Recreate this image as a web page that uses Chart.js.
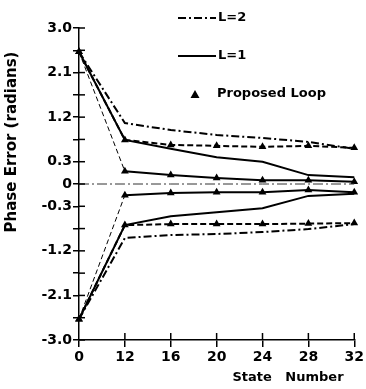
<!DOCTYPE html>
<html>
<head>
<meta charset="utf-8">
<script src="https://cdn.jsdelivr.net/npm/chart.js@4.4.1/dist/chart.umd.min.js"></script>
<style>
html, body { margin: 0; padding: 0; background: #fff; }
#wrap { width: 366px; height: 389px; }
</style>
</head>
<body>
<div id="wrap"><canvas id="chart" width="366" height="389"></canvas></div>
<script>
var states = ['0', '12', '16', '20', '24', '28', '32'];

// phase error in radians
var l2Upper = [2.52, 1.08, 0.94, 0.84, 0.78, 0.70, 0.56];
var l2Lower = [-2.58, -0.94, -0.88, -0.86, -0.82, -0.76, -0.66];
var l1Upper = [2.52, 0.74, 0.56, 0.39, 0.30, 0.12, 0.09];
var l1Lower = [-2.58, -0.68, -0.50, -0.42, -0.34, -0.16, -0.13];
var loopOuterUpper = [2.52, 0.74, 0.64, 0.62, 0.60, 0.62, 0.58];
var loopOuterLower = [-2.58, -0.68, -0.66, -0.66, -0.66, -0.65, -0.64];
var loopInnerUpper = [2.52, 0.17, 0.12, 0.08, 0.05, 0.05, 0.03];
var loopInnerLower = [-2.58, -0.15, -0.12, -0.11, -0.11, -0.08, -0.11];
var zeroLine = [0, 0, 0, 0, 0, 0, 0];

var yTickValues = [-3.0, -2.1, -1.2, -0.3, 0, 0.3, 1.2, 2.1, 3.0];
var yTickLabels = ['-3.0', '-2.1', '-1.2', '-0.3', '0', '0.3', '1.2', '2.1', '3.0'];

var FONT = '"DejaVu Sans", sans-serif';

// the drawn axis is not linear: 0.3 per step near zero, 0.45 per step beyond
function toAxis(v) {
	var a = Math.abs(v);
	var u = a <= 0.3 ? a / 0.3 : 1 + (a - 0.3) / 0.45;
	return v < 0 ? -u : u;
}
function mapped(arr) {
	return arr.map(toAxis);
}

var firstThin = {
	borderDash: function (ctx) { return ctx.p0DataIndex === 0 ? [5, 3] : undefined; },
	borderWidth: function (ctx) { return ctx.p0DataIndex === 0 ? 1 : undefined; }
};

function line(label, data, opts) {
	var d = {
		label: label,
		data: mapped(data),
		borderColor: '#000',
		backgroundColor: '#000',
		borderWidth: 2,
		pointRadius: 0,
		tension: 0,
		fill: false
	};
	for (var k in opts) d[k] = opts[k];
	return d;
}

var tri = {pointStyle: 'triangle', pointRadius: 4.5, pointBorderWidth: 0};

var datasets = [
	line('zero', zeroLine, {borderWidth: 1, borderDash: [10, 3, 2, 3], borderColor: '#333'}),
	line('L=2', l2Upper, {borderDash: [8, 3, 2, 3]}),
	line('L=2 lower', l2Lower, {borderDash: [8, 3, 2, 3]}),
	line('L=1', l1Upper, {}),
	line('L=1 lower', l1Lower, {}),
	line('Proposed Loop', loopOuterUpper, Object.assign({borderDash: [6, 3]}, tri)),
	line('Proposed Loop lower', loopOuterLower, Object.assign({borderDash: [6, 3]}, tri)),
	line('Proposed Loop inner', loopInnerUpper, Object.assign({segment: firstThin}, tri)),
	line('Proposed Loop inner lower', loopInnerLower, Object.assign({segment: firstThin}, tri))
];

// tick marks cross the axis, and the titles / legend sit where the original put them
var decor = {
	id: 'decor',
	afterDraw: function (chart) {
		var ctx = chart.ctx, area = chart.chartArea;
		var xs = chart.scales.x, ys = chart.scales.y;
		ctx.save();
		ctx.strokeStyle = '#000';
		ctx.lineWidth = 1.5;
		ys.ticks.forEach(function (t) {
			var py = ys.getPixelForValue(t.value);
			ctx.beginPath();
			ctx.moveTo(area.left, py);
			ctx.lineTo(area.left + 6, py);
			ctx.stroke();
		});
		xs.ticks.forEach(function (t, i) {
			if (i === 0) return;
			var px = xs.getPixelForTick(i);
			ctx.beginPath();
			ctx.moveTo(px, area.bottom);
			ctx.lineTo(px, area.bottom - 7);
			ctx.stroke();
		});

		ctx.fillStyle = '#000';
		ctx.textBaseline = 'middle';

		// y title
		ctx.save();
		ctx.font = 'bold 15px ' + FONT;
		ctx.translate(12, 142);
		ctx.rotate(-Math.PI / 2);
		ctx.textAlign = 'center';
		ctx.fillText('Phase Error (radians)', 0, 0);
		ctx.restore();

		ctx.font = 'bold 13px ' + FONT;

		// x title
		ctx.textAlign = 'center';
		ctx.fillText('State   Number', 288, 378);

		// legend
		ctx.textAlign = 'left';
		var lx = 178, lw = 38;
		ctx.lineWidth = 2;
		ctx.setLineDash([8, 3, 2, 3]);
		ctx.beginPath(); ctx.moveTo(lx, 18); ctx.lineTo(lx + lw, 18); ctx.stroke();
		ctx.setLineDash([]);
		ctx.beginPath(); ctx.moveTo(lx, 56); ctx.lineTo(lx + lw, 56); ctx.stroke();
		ctx.fillText('L=2', lx + lw + 2, 18);
		ctx.fillText('L=1', lx + lw + 2, 56);
		ctx.beginPath();
		ctx.moveTo(195, 90); ctx.lineTo(199.5, 98); ctx.lineTo(190.5, 98); ctx.closePath();
		ctx.fill();
		ctx.fillText('Proposed Loop', 217, 94);
		ctx.restore();
	}
};

new Chart(document.getElementById('chart'), {
	type: 'line',
	data: {labels: states, datasets: datasets},
	plugins: [decor],
	options: {
		responsive: false,
		animation: false,
		layout: {padding: {top: 28, right: 9, left: 0, bottom: 0}},
		plugins: {legend: {display: false}, tooltip: {enabled: false}},
		scales: {
			x: {
				type: 'category',
				offset: false,
				afterFit: function (s) { s.height = 49; },
				grid: {drawOnChartArea: false, tickLength: 7, color: '#000', lineWidth: 1.5},
				border: {display: true, color: '#000', width: 1.5},
				ticks: {color: '#000', padding: 2, maxRotation: 0, font: {family: FONT, size: 14, weight: 'bold'}}
			},
			y: {
				min: -7,
				max: 7,
				afterFit: function (s) { s.width = 79; },
				afterBuildTicks: function (s) {
					var t = [];
					for (var u = -7; u <= 7; u++) t.push({value: u});
					s.ticks = t;
				},
				grid: {drawOnChartArea: false, tickLength: 6, color: '#000', lineWidth: 1.5},
				border: {display: true, color: '#000', width: 1.5},
				ticks: {
					color: '#000',
					padding: 1,
					font: {family: FONT, size: 14, weight: 'bold'},
					callback: function (u) {
						for (var i = 0; i < yTickValues.length; i++) {
							if (Math.abs(toAxis(yTickValues[i]) - u) < 1e-6) return yTickLabels[i];
						}
						return '';
					}
				}
			}
		}
	}
});
</script>
</body>
</html>
